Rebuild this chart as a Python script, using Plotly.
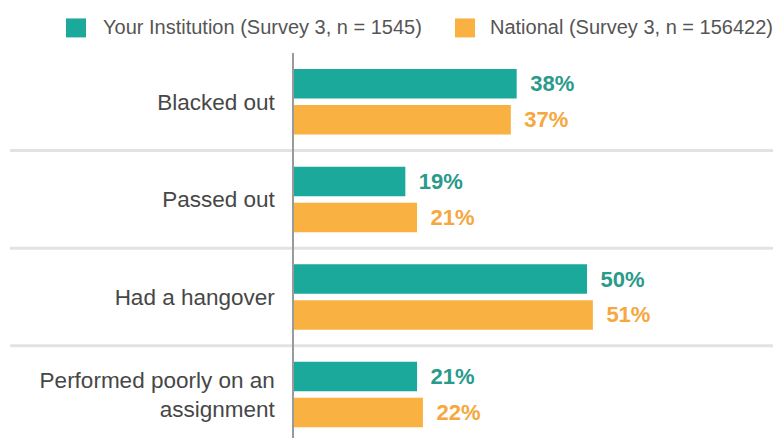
import plotly.graph_objects as go

categories = ["Blacked out", "Passed out", "Had a hangover", "Performed poorly on an<br>assignment"]
series_names = ["Your Institution (Survey 3, n = 1545)", "National (Survey 3, n = 156422)"]
institution = [38, 19, 50, 21]
national = [37, 21, 51, 22]

bar_colors = ["#1BA99B", "#F9B141"]
text_colors = ["#2A9A8B", "#F6A73D"]
FONT = "Liberation Sans, Arial, sans-serif"

W, H = 773, 438
L, T = 294, 52.6
PW, PH = W - L, H - T
PX_PER_PCT = 5.86
CAT_PX = 97.7

idx = list(range(len(categories)))

fig = go.Figure()
for name, vals, bc, tc in zip(series_names, [institution, national], bar_colors, text_colors):
    fig.add_trace(go.Bar(
        name=name, y=idx, x=vals, orientation="h",
        marker=dict(color=bc, line=dict(width=0)),
        text=[f"\u00a0\u2009{v}%" for v in vals], textposition="outside",
        outsidetextfont=dict(family=FONT, size=22, color=tc, weight="bold"),
        constraintext="none", cliponaxis=False, showlegend=False,
        hoverinfo="skip",
    ))

# separators between categories
for i in idx[:-1]:
    fig.add_shape(type="line", xref="paper", yref="y",
                  x0=(10 - L) / PW, x1=1, y0=i + 0.5, y1=i + 0.5,
                  line=dict(color="#E2E2E2", width=3), layer="below")

# legend (manual, larger swatches)
def px_x(px):
    return (px - L) / PW

def px_y(py):
    return (H - py) / PH

legend_items = [(66, 101), (455, 488)]
for (sx, tx), name, bc in zip(legend_items, series_names, bar_colors):
    fig.add_shape(type="rect", xref="paper", yref="paper",
                  x0=px_x(sx), x1=px_x(sx + 20), y0=px_y(37), y1=px_y(18),
                  fillcolor=bc, line=dict(width=0))
    fig.add_annotation(xref="paper", yref="paper", x=px_x(tx), y=px_y(27),
                       xanchor="left", yanchor="middle", showarrow=False,
                       text=name, font=dict(family=FONT, size=20, color="#555555"))

fig.update_layout(
    width=W, height=H,
    margin=dict(l=L, r=0, t=T, b=0, pad=0),
    paper_bgcolor="white", plot_bgcolor="white",
    barmode="group", bargap=0.263, bargroupgap=0.18,
    font=dict(family=FONT),
    xaxis=dict(range=[0, PW / PX_PER_PCT], visible=False, fixedrange=True),
    yaxis=dict(range=[-0.5 + PH / CAT_PX, -0.5],
               tickvals=idx, ticktext=categories,
               tickfont=dict(family=FONT, size=22.5, color="#474747"),
               showline=True, linecolor="#9A9A9A", linewidth=1.5,
               showgrid=False, zeroline=False, ticks="", ticklabelstandoff=13,
               fixedrange=True),
)

fig.write_html("out.html", config={"displayModeBar": False},
               post_script="document.body.style.margin='0px';document.body.style.padding='0px';")
